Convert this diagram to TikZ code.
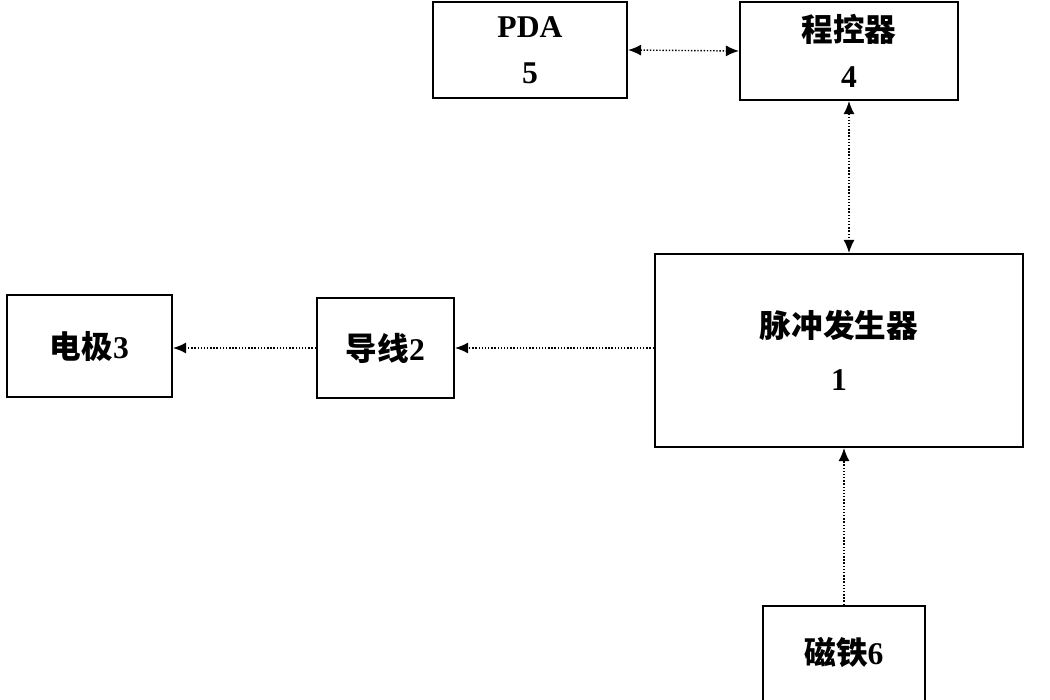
\documentclass[tikz,border=0pt]{standalone}
\usepackage{fontspec}
\setmainfont{Liberation Serif}
\newfontfamily\cjk{Noto Sans CJK SC}
\usetikzlibrary{positioning,calc,arrows.meta}

\begin{document}
\begin{tikzpicture}[every node/.style={draw,line width=1.2pt,align=center,font=\fontsize{18}{26}\selectfont\bfseries},
  link/.style={densely dotted,line width=0.8pt,-{Latex[length=2.6mm,width=2.2mm]}},
  twoway/.style={densely dotted,line width=0.8pt,{Latex[length=2.6mm,width=2.2mm]}-{Latex[length=2.6mm,width=2.2mm]}}]
\useasboundingbox (0,0) rectangle (21,-14);
\node [minimum width=3.88cm,minimum height=1.92cm] (PDA) at (10.6,-1.0) {PDA\\5};
\node [minimum width=4.36cm,minimum height=1.96cm] (Ctrl) at (16.98,-1.02) {{\cjk 程控器}\\4};
\node [minimum width=7.36cm,minimum height=3.86cm,font=\fontsize{18}{30}\selectfont\bfseries] (Pulse) at (16.78,-7.01) {{\cjk 脉冲发生器}\\1};
\node [minimum width=2.74cm,minimum height=2.0cm] (Wire) at (7.71,-6.96) {{\cjk 导线}2};
\node [minimum width=3.3cm,minimum height=2.04cm] (Electrode) at (1.79,-6.92) {{\cjk 电极}3};
\node [minimum width=3.24cm,minimum height=3.1cm,anchor=north] (Magnet) at (16.88,-12.1) {{\cjk 磁铁}6\\[0.6em]};
\draw [twoway] (PDA.east) -- (Ctrl.west);
\draw [twoway] (Ctrl.south) -- (Ctrl.south |- Pulse.north);
\draw [link] (Pulse.west |- Wire.east) -- (Wire.east);
\draw [link] (Wire.west) -- (Wire.west -| Electrode.east);
\draw [link] (Magnet.north) -- (Magnet.north |- Pulse.south);
\end{tikzpicture}
\end{document}
